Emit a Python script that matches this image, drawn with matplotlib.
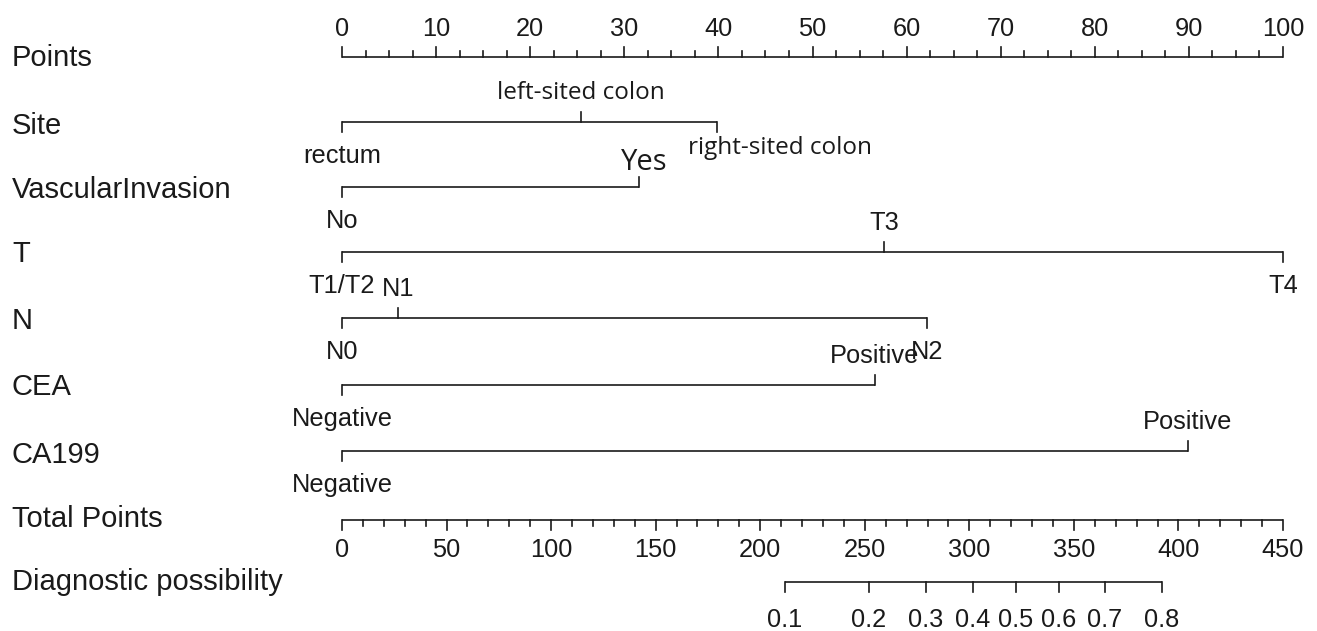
import numpy as np
import matplotlib.pyplot as plt

plt.rcParams['font.family'] = ['Liberation Sans', 'DejaVu Sans']

# ---- data ----
row_names = ['Points', 'Site', 'VascularInvasion', 'T', 'N', 'CEA', 'CA199',
             'Total Points', 'Diagnostic possibility']

site_levels = ['rectum', 'left-sited colon', 'right-sited colon']
site_pts = [0, 25.4, 39.8]
vi_levels = ['No', 'Yes']
vi_pts = [0, 31.6]
t_levels = ['T1/T2', 'T3', 'T4']
t_pts = [0, 57.6, 100]
n_levels = ['N0', 'N1', 'N2']
n_pts = [0, 6.0, 62.2]
cea_levels = ['Negative', 'Positive']
cea_pts = [0, 56.6]
ca199_levels = ['Negative', 'Positive']
ca199_pts = [0, 89.9]

points_max = 100
total_max = 450
prob_labels = ['0.1', '0.2', '0.3', '0.4', '0.5', '0.6', '0.7', '0.8']
prob_total = [211.7, 252.0, 279.3, 301.7, 322.2, 342.8, 364.9, 392.0]

# ---- layout (pixels, y down) ----
W, H = 1317, 631
x0_px, x1_px = 342, 1283
px_per_pt = (x1_px - x0_px) / points_max
row_y = [57, 122, 187, 252, 318, 385, 451, 520, 582]
label_y = [58, 126, 190, 254, 321, 387, 455, 519, 582]
lw = 1.2
col = '#1a1a1a'
tick_fs = 18.3
name_fs = 21
major_len = 10
minor_len = 6

fig = plt.figure(figsize=(W / 100, H / 100), dpi=100)
ax = fig.add_axes([0, 0, 1, 1])
ax.set_xlim(-x0_px / px_per_pt, (W - x0_px) / px_per_pt)
ax.set_ylim(H, 0)
ax.axis('off')

for name, y in zip(row_names, label_y):
    ax.text(-x0_px / px_per_pt + 12 / px_per_pt, y, name, fontsize=name_fs,
            color=col, ha='left', va='center')

# Points scale
y = row_y[0]
ax.plot([0, points_max], [y, y], color=col, lw=lw, solid_capstyle='butt')
for v in np.arange(0, points_max + 0.1, 2.5):
    ln = major_len if v % 10 == 0 else minor_len
    ax.plot([v, v], [y, y - ln], color=col, lw=lw)
for v in np.arange(0, points_max + 1, 10):
    ax.text(v, y - 28, f'{v:g}', fontsize=tick_fs, color=col, ha='center', va='center')

# factor rows
factors = [(site_levels, site_pts), (vi_levels, vi_pts), (t_levels, t_pts),
           (n_levels, n_pts), (cea_levels, cea_pts), (ca199_levels, ca199_pts)]
alt_font = {'left-sited colon': 17.5, 'right-sited colon': 17.5, 'Yes': 21}
alt_off = {'right-sited colon': 26, 'Yes': -25}
alt_dx = {'right-sited colon': 63 / px_per_pt, 'Yes': 5 / px_per_pt}
for i, (levels, pts) in enumerate(factors):
    y = row_y[i + 1]
    ax.plot([min(pts), max(pts)], [y, y], color=col, lw=lw, solid_capstyle='butt')
    for j, (lab, p) in enumerate(zip(levels, pts)):
        up = j % 2 == 1
        ax.plot([p, p], [y, y - major_len if up else y + major_len], color=col, lw=lw)
        off = alt_off.get(lab, -29 if up else 34)
        if lab in alt_font:
            ax.text(p + alt_dx.get(lab, 0), y + off, lab, fontsize=alt_font[lab],
                    color=col, ha='center', va='center',
                    family=['Open Sans', 'DejaVu Sans'])
        else:
            ax.text(p, y + off, lab, fontsize=tick_fs, color=col,
                    ha='center', va='center')

# Total points scale
scale = points_max / total_max
y = row_y[7]
ax.plot([0, points_max], [y, y], color=col, lw=lw, solid_capstyle='butt')
for v in np.arange(0, total_max + 1, 10):
    ln = major_len if v % 50 == 0 else minor_len
    ax.plot([v * scale, v * scale], [y, y + ln], color=col, lw=lw)
for v in np.arange(0, total_max + 1, 50):
    ax.text(v * scale, y + 30, f'{v:g}', fontsize=tick_fs, color=col,
            ha='center', va='center')

# Diagnostic possibility scale
y = row_y[8]
xs = [t * scale for t in prob_total]
ax.plot([xs[0], xs[-1]], [y, y], color=col, lw=lw, solid_capstyle='butt')
for x, lab in zip(xs, prob_labels):
    ax.plot([x, x], [y, y + major_len], color=col, lw=lw)
    ax.text(x, y + 38, lab, fontsize=tick_fs, color=col, ha='center', va='center')

fig.savefig('out.png', dpi=100)
